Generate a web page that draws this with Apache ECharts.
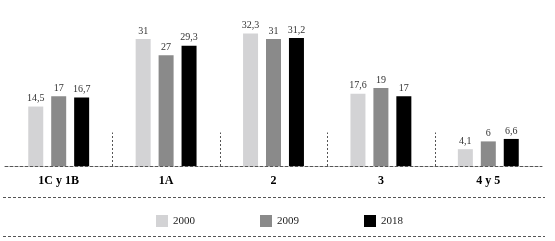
<!DOCTYPE html>
<html>
<head>
<meta charset="utf-8">
<script src="https://cdn.jsdelivr.net/npm/echarts@6/dist/echarts.min.js"></script>
<style>html,body{margin:0;padding:0;background:#fff;}#c{width:555px;height:241px;}</style>
</head>
<body>
<div id="c"></div>
<script>
const categories = ['1C y 1B', '1A', '2', '3', '4 y 5'];
const seriesNames = ['2000', '2009', '2018'];
const values2000 = [14.5, 31, 32.3, 17.6, 4.1];
const values2009 = [17, 27, 31, 19, 6];
const values2018 = [16.7, 29.3, 31.2, 17, 6.6];
const separatorIdx = [1, 2, 3, 4];
const separatorHeight = 8.2;

const colors = ['#d3d3d5', '#8a8a8a', '#000000'];
const font = '"Liberation Serif", "DejaVu Serif", serif';
const fmt = p => String(p.value).replace('.', ',');

const chart = echarts.init(document.getElementById('c'));
const mkBar = (name, data, color) => ({
  name, type: 'bar', data, barWidth: 15, barGap: '53%',
  itemStyle: { color },
  label: { show: true, position: 'top', distance: 3, formatter: fmt,
    fontFamily: font, fontSize: 10, color: '#333' }
});
chart.setOption({
  animation: false,
  grid: { left: 5, right: 13, top: 2, bottom: 75 },
  legend: {
    data: seriesNames, left: 151, top: 210, itemWidth: 12, itemHeight: 12,
    itemGap: 65, icon: 'rect',
    textStyle: { fontFamily: font, fontSize: 11, color: '#222' }
  },
  xAxis: {
    type: 'category', data: categories,
    axisLine: { lineStyle: { color: '#555', type: [3, 2], width: 1 } },
    axisTick: { show: false },
    axisLabel: { fontFamily: font, fontSize: 12, fontWeight: 'bold', color: '#000', margin: 9 }
  },
  yAxis: { type: 'value', min: 0, max: 40, show: false },
  series: [
    mkBar(seriesNames[0], values2000, colors[0]),
    mkBar(seriesNames[1], values2009, colors[1]),
    mkBar(seriesNames[2], values2018, colors[2]),
    {
      type: 'custom', silent: true,
      data: separatorIdx.map(i => [i, separatorHeight]),
      renderItem(params, api) {
        const idx = api.value(0);
        const band = api.size([1, 0])[0];
        const p0 = api.coord([idx, 0]);
        const p1 = api.coord([idx, api.value(1)]);
        const x = Math.round(p0[0] - band / 2) + 0.5;
        return { type: 'line', shape: { x1: x, y1: p0[1], x2: x, y2: p1[1] },
          style: { stroke: '#555', lineWidth: 1, lineDash: [2, 2] } };
      }
    }
  ],
  graphic: [
    { type: 'line', shape: { x1: 3, y1: 197.5, x2: 545, y2: 197.5 },
      style: { stroke: '#555', lineWidth: 1, lineDash: [3, 2] } },
    { type: 'line', shape: { x1: 3, y1: 236.5, x2: 545, y2: 236.5 },
      style: { stroke: '#555', lineWidth: 1, lineDash: [3, 2] } }
  ]
});
</script>
</body>
</html>
